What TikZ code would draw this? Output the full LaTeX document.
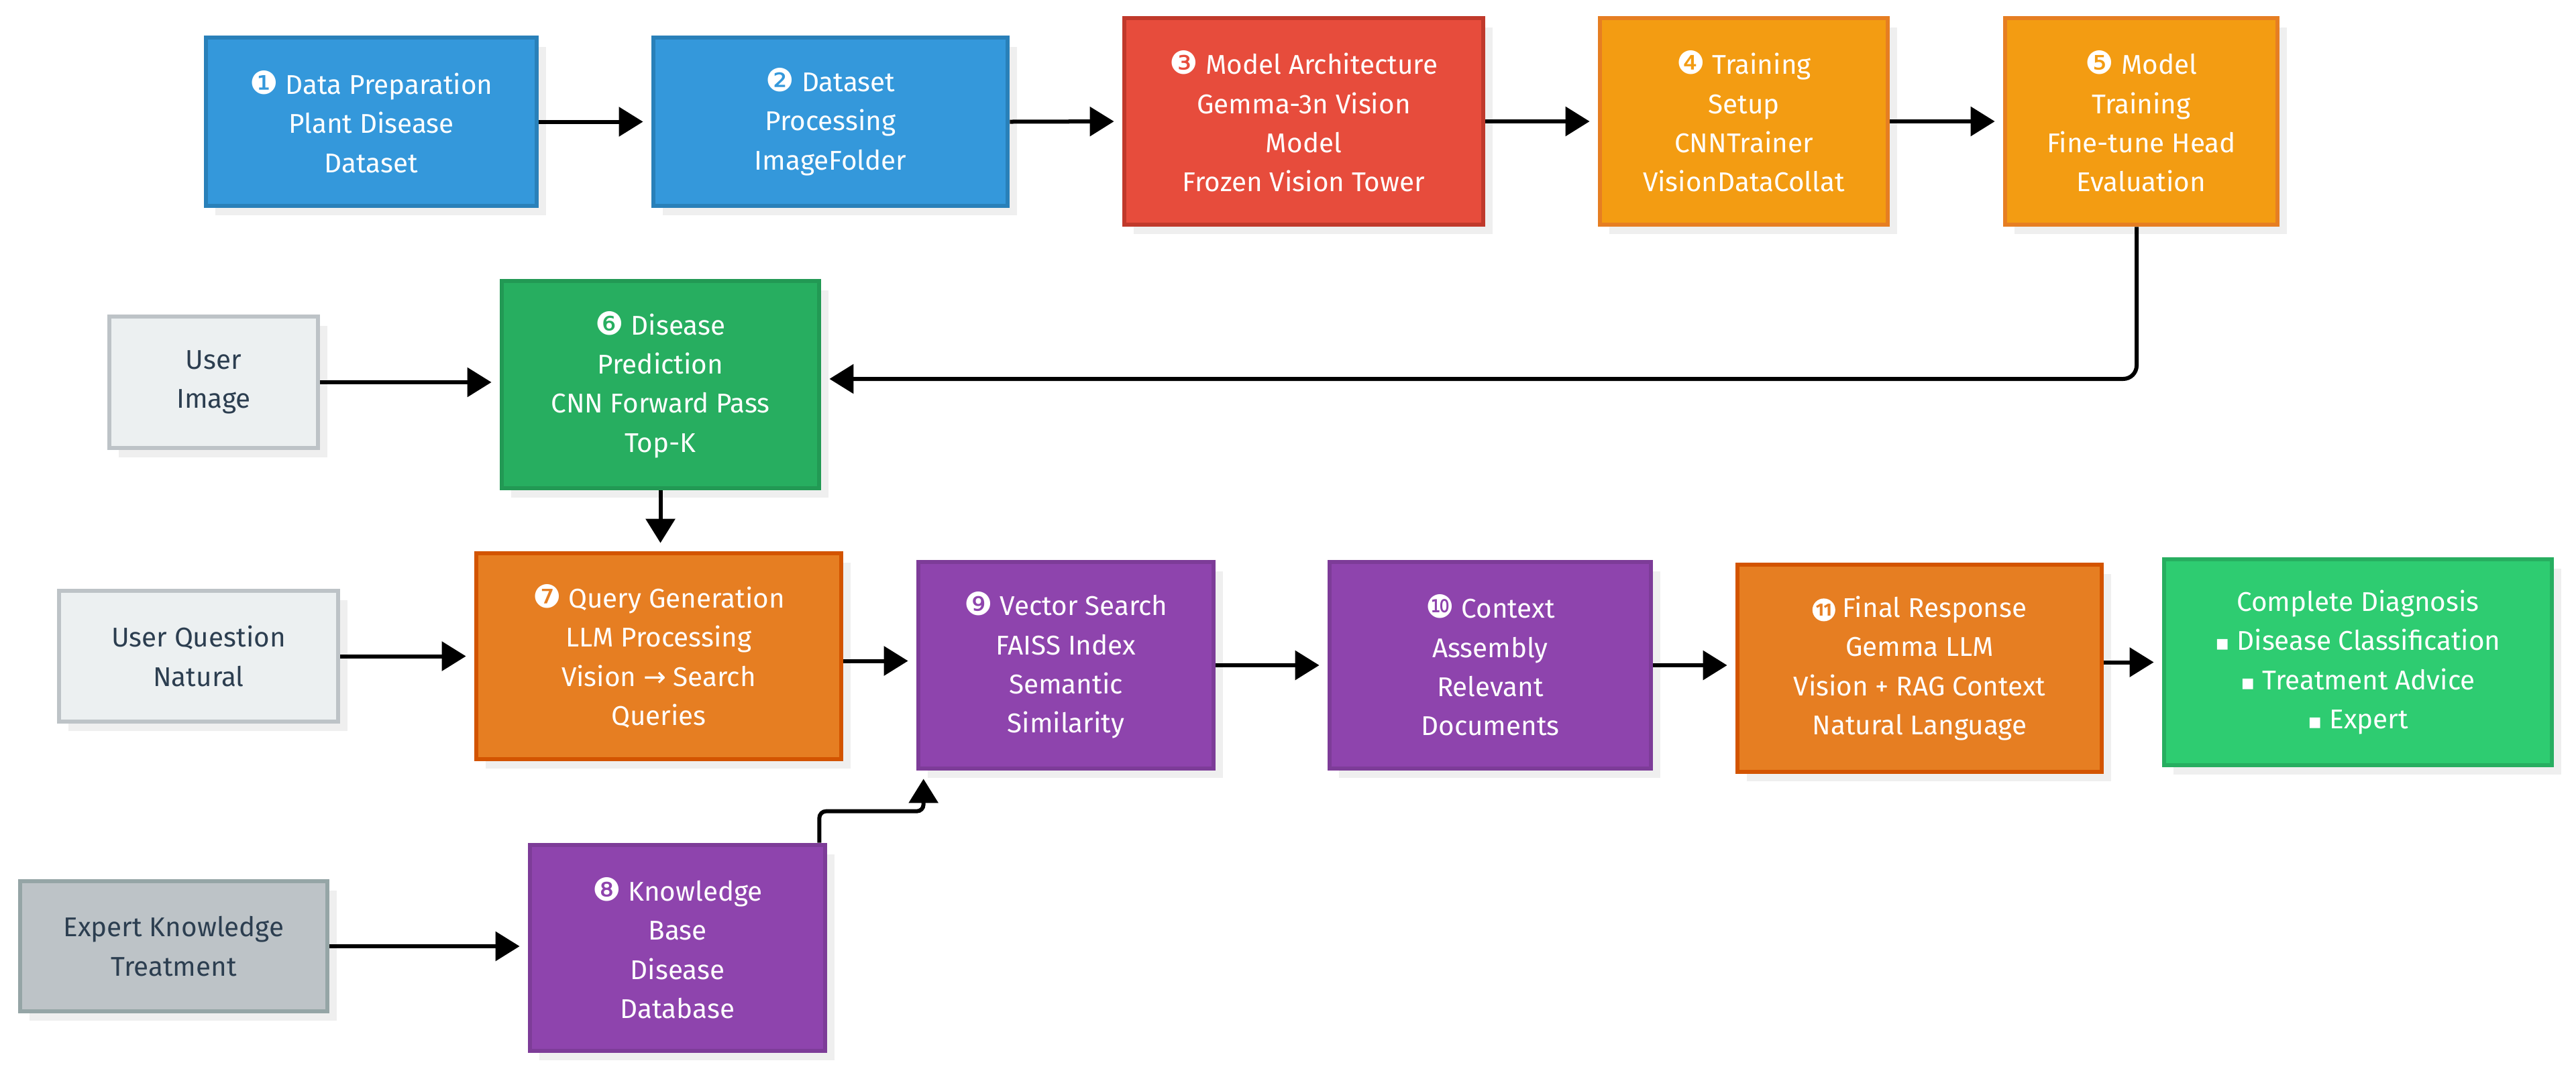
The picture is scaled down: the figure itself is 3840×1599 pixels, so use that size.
\documentclass[tikz,border=0pt]{standalone}
\usepackage{fontspec}
\setmainfont{Fira Sans}
\newfontfamily\symfont{DejaVu Sans}
\usetikzlibrary{arrows.meta,shadows}

\definecolor{blueFill}{HTML}{3498DB}
\definecolor{blueLine}{HTML}{2980B9}
\definecolor{redFill}{HTML}{E74C3C}
\definecolor{redLine}{HTML}{C0392B}
\definecolor{amberFill}{HTML}{F39C12}
\definecolor{amberLine}{HTML}{E67E22}
\definecolor{greenFill}{HTML}{27AE60}
\definecolor{greenLine}{HTML}{229954}
\definecolor{orangeFill}{HTML}{E67E22}
\definecolor{orangeLine}{HTML}{D35400}
\definecolor{purpleFill}{HTML}{8E44AD}
\definecolor{purpleLine}{HTML}{7D3C98}
\definecolor{limeFill}{HTML}{2ECC71}
\definecolor{limeLine}{HTML}{27AE60}
\definecolor{paleFill}{HTML}{ECF0F1}
\definecolor{paleLine}{HTML}{BDC3C7}
\definecolor{greyFill}{HTML}{BDC3C7}
\definecolor{greyLine}{HTML}{95A5A6}
\definecolor{darkText}{HTML}{2C3E50}
\definecolor{shadowGrey}{HTML}{EFEFEF}

\newcommand{\stepno}[1]{{\symfont\fontsize{13.5}{13.5}\selectfont #1}}
\newcommand{\stepeleven}{\tikz[baseline=-0.11cm]\node[circle, fill=white, inner sep=0pt, minimum size=0.34cm,
  text=orangeFill, font=\bfseries\fontsize{7.5}{7.5}\selectfont] (eleven) {11};}
\newcommand{\dotitem}{{\symfont\fontsize{9}{9}\selectfont ▪}}

\begin{document}
\begin{tikzpicture}[x=0.01cm, y=-0.01cm,
  box/.style={draw, line width=0.065cm, inner sep=0pt, align=center, text=white,
    font=\fontsize{11.5}{16.6}\selectfont,
    general shadow={fill=shadowGrey, shadow xshift=0.14cm, shadow yshift=-0.14cm}},
  inbox/.style={box, text=darkText},
  flow/.style={line width=0.06cm, -{Triangle[length=0.36cm,width=0.43cm]}, shorten >=0.12cm}]
  \useasboundingbox (0,0) rectangle (3840,1599);

  \node[box, fill=blueFill, draw=blueLine, minimum width=4.93cm, minimum height=2.51cm] (prep) at (553.5,181.5)
    {\stepno{❶} Data Preparation\\Plant Disease\\Dataset};
  \node[box, fill=blueFill, draw=blueLine, minimum width=5.28cm, minimum height=2.51cm] (proc) at (1238,181.5)
    {\stepno{❷} Dataset\\Processing\\ImageFolder};
  \node[box, fill=redFill, draw=redLine, minimum width=5.35cm, minimum height=3.08cm] (arch) at (1943.5,181)
    {\stepno{❸} Model Architecture\\Gemma-3n Vision\\Model\\Frozen Vision Tower};
  \node[box, fill=amberFill, draw=amberLine, minimum width=4.29cm, minimum height=3.08cm] (setup) at (2599.5,181)
    {\stepno{❹} Training\\Setup\\CNNTrainer\\VisionDataCollat};
  \node[box, fill=amberFill, draw=amberLine, minimum width=4.06cm, minimum height=3.08cm] (train) at (3192,181)
    {\stepno{❺} Model\\Training\\Fine-tune Head\\Evaluation};

  \node[inbox, fill=paleFill, draw=paleLine, minimum width=3.11cm, minimum height=1.96cm] (img) at (318.5,570)
    {User\\Image};
  \node[box, fill=greenFill, draw=greenLine, minimum width=4.73cm, minimum height=3.09cm] (pred) at (984.5,573.5)
    {\stepno{❻} Disease\\Prediction\\CNN Forward Pass\\Top-K};

  \node[inbox, fill=paleFill, draw=paleLine, minimum width=4.16cm, minimum height=1.95cm] (ques) at (296,978.5)
    {User Question\\Natural};
  \node[box, fill=orangeFill, draw=orangeLine, minimum width=5.44cm, minimum height=3.07cm] (query) at (982,978.5)
    {\stepno{❼} Query Generation\\LLM Processing\\Vision {\symfont →} Search\\Queries};
  \node[box, fill=purpleFill, draw=purpleLine, minimum width=4.40cm, minimum height=3.08cm] (search) at (1589,992)
    {\stepno{❾} Vector Search\\FAISS Index\\Semantic\\Similarity};
  \node[box, fill=purpleFill, draw=purpleLine, minimum width=4.79cm, minimum height=3.08cm] (ctx) at (2221.5,992)
    {\stepno{❿} Context\\Assembly\\Relevant\\Documents};
  \node[box, fill=orangeFill, draw=orangeLine, minimum width=5.43cm, minimum height=3.09cm] (resp) at (2861.5,996.5)
    {\stepeleven{} Final Response\\Gemma LLM\\Vision + RAG Context\\Natural Language};
  \node[box, fill=limeFill, draw=limeLine, minimum width=5.78cm, minimum height=3.07cm] (diag) at (3515,987.5)
    {Complete Diagnosis\\\dotitem{} Disease Classification\\\dotitem{} Treatment Advice\\\dotitem{} Expert};

  \node[inbox, fill=greyFill, draw=greyLine, minimum width=4.58cm, minimum height=1.94cm] (expert) at (259,1411)
    {Expert Knowledge\\Treatment};
  \node[box, fill=purpleFill, draw=purpleLine, minimum width=4.40cm, minimum height=3.07cm] (kb) at (1010,1413.5)
    {\stepno{❽} Knowledge\\Base\\Disease\\Database};

  \draw[flow] (prep.east) -- (proc.west);
  \draw[flow] (proc.east) -- (arch.west);
  \draw[flow] (arch.east) -- (setup.west);
  \draw[flow] (setup.east) -- (train.west);
  \draw[flow, rounded corners=0.2cm] ([xshift=-0.07cm]train.south) |- ([yshift=0.085cm]pred.east);
  \draw[flow] (img.east) -- (img.east -| pred.west);
  \draw[flow] (pred.south) -- (pred.south |- query.north);
  \draw[flow] (ques.east) -- (query.west);
  \draw[flow] ([yshift=-0.07cm]query.east) -- ([yshift=-0.07cm]query.east -| search.west);
  \draw[flow] (search.east) -- (ctx.west);
  \draw[flow] (ctx.east) -- (ctx.east -| resp.west);
  \draw[flow] (resp.east |- diag.west) -- (diag.west);
  \draw[flow] (expert.east) -- (expert.east -| kb.west);
  \draw[flow, rounded corners=0.1cm] ([xshift=-0.12cm]kb.north east) -- ++(0,-47) -| ([xshift=0.11cm]search.south west);
\end{tikzpicture}
\end{document}
